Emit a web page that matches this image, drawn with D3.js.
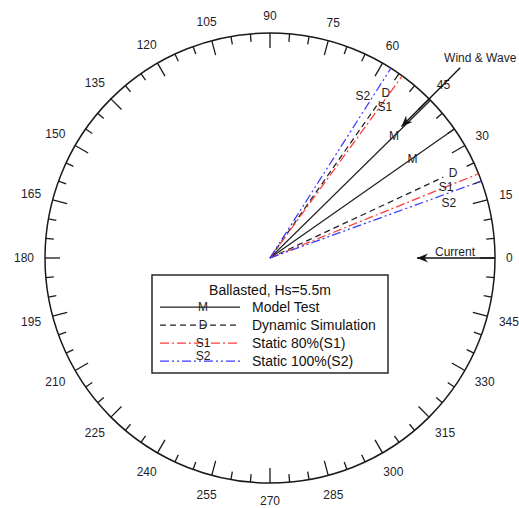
<!DOCTYPE html>
<html>
<head>
<meta charset="utf-8">
<script src="https://cdn.jsdelivr.net/npm/d3@7"></script>
<style>
  html, body { margin: 0; padding: 0; background: #fff; }
  svg { display: block; font-family: "Liberation Sans", Arial, sans-serif; }
</style>
</head>
<body>
<svg id="chart" width="519" height="508"></svg>
<script>
// Heading (deg, counter-clockwise from east) of each result, two cases per method
const seriesKeys  = ["M", "D", "S1", "S2"];
const seriesNames = ["Model Test", "Dynamic Simulation", "Static 80%(S1)", "Static 100%(S2)"];
const headingCase1 = [44.5, 55, 54, 57.5];
const headingCase2 = [35, 25, 22, 20];
const tickLabels = [0, 15, 30, 45, 60, 75, 90, 105, 120, 135, 150, 165,
                    180, 195, 210, 225, 240, 255, 270, 285, 300, 315, 330, 345];
const windDirection = 45;
const currentDirection = 0;
const legendTitle = "Ballasted, Hs=5.5m";

// Styling per method
const style = {
  M:  { color: "#222",    dash: null,              len: 1.0,  labR: 174, off: [0, 0]  },
  D:  { color: "#222",    dash: "6,4",             len: 0.85, labR: 202, off: [0, 0]  },
  S1: { color: "#ff3b3b", dash: "9,3,2,3",         len: 1.0,  labR: 190, off: [-4, 0] },
  S2: { color: "#3b3bff", dash: "9,3,2,3,2,3",     len: 1.0,  labR: 187, off: [9, -9] }
};

const svg = d3.select("#chart");
const cx = 270, cy = 258, R = 225;
const g = svg.append("g").attr("transform", `translate(${cx},${cy})`);

// radial scale (fraction of radius -> px) and heading -> d3 radial angle
const rScale = d3.scaleLinear().domain([0, 1]).range([0, R]);
const aScale = d3.scaleLinear().domain([0, 360]).range([Math.PI / 2, Math.PI / 2 - 2 * Math.PI]);
const pt = (deg, r) => {
  const a = aScale(deg);
  return [r * Math.sin(a), -r * Math.cos(a)];
};

// outer circle
g.append("circle").attr("r", R).attr("fill", "none").attr("stroke", "#1a1a1a").attr("stroke-width", 1.5);

// compass ticks every 5 degrees, longer every 15
const tickDegs = d3.range(0, 360, 5);
g.selectAll("line.tick").data(tickDegs).join("line")
  .attr("class", "tick")
  .attr("x1", d => pt(d, R)[0]).attr("y1", d => pt(d, R)[1])
  .attr("x2", d => pt(d, R - (d % 15 === 0 ? 15 : 8))[0])
  .attr("y2", d => pt(d, R - (d % 15 === 0 ? 15 : 8))[1])
  .attr("stroke", "#1a1a1a").attr("stroke-width", 1.3);

// tick labels placed just outside the circle
const lbl = g.selectAll("text.tl").data(tickLabels).join("text")
  .attr("class", "tl")
  .attr("font-size", 12).attr("fill", "#1e1e2a")
  .attr("text-anchor", "middle").attr("dy", "0.36em")
  .text(d => d);
lbl.each(function (d) {
  const w = this.getComputedTextLength() / 2;
  const a = aScale(d);
  const r = 236 + w * Math.abs(Math.sin(a)) + 6.5 * Math.abs(Math.cos(a));
  const p = pt(d, r);
  d3.select(this).attr("x", p[0]).attr("y", p[1]);
});

// result lines
const radial = d3.lineRadial().angle(d => aScale(d[0])).radius(d => rScale(d[1]));
const rows = [];
seriesKeys.forEach((k, i) => {
  [headingCase1[i], headingCase2[i]].forEach((h, c) => rows.push({ key: k, heading: h, caseIdx: c }));
});
g.selectAll("path.res").data(rows).join("path")
  .attr("class", "res")
  .attr("d", d => radial([[d.heading, 0], [d.heading, style[d.key].len]]))
  .attr("fill", "none")
  .attr("stroke", d => style[d.key].color)
  .attr("stroke-width", 1.25)
  .attr("stroke-dasharray", d => style[d.key].dash);

// labels near the line ends
g.selectAll("text.rl").data(rows).join("text")
  .attr("class", "rl")
  .attr("font-size", 12).attr("fill", "#222")
  .attr("text-anchor", "middle").attr("dy", "0.36em")
  .attr("transform", d => {
    const s = style[d.key];
    const p = pt(d.heading, s.labR);
    const perp = s.off[d.caseIdx];
    const a = aScale(d.heading);
    // perpendicular (counter-clockwise side) unit vector
    const nx = -Math.cos(a), ny = -Math.sin(a);
    return `translate(${p[0] + perp * nx},${p[1] + perp * ny})`;
  })
  .text(d => d.key);

// arrow helper: shaft from r0 to r1 with notched head at r1
function arrow(deg, r0, r1) {
  const a0 = pt(deg, r0), a1 = pt(deg, r1);
  g.append("line").attr("x1", a0[0]).attr("y1", a0[1]).attr("x2", a1[0]).attr("y2", a1[1])
    .attr("stroke", "#111").attr("stroke-width", 1.4);
  const ang = Math.atan2(a1[1] - a0[1], a1[0] - a0[0]) * 180 / Math.PI;
  g.append("path")
    .attr("d", "M0,0 L-11,-4.5 L-7.5,0 L-11,4.5 Z")
    .attr("fill", "#111")
    .attr("transform", `translate(${a1[0]},${a1[1]}) rotate(${ang})`);
}
arrow(windDirection, 269, 186);
arrow(currentDirection, R, 147);

g.append("text").attr("x", pt(windDirection, 269)[0] + 20).attr("y", pt(windDirection, 269)[1] - 6)
  .attr("font-size", 12).attr("fill", "#1e1e2a").attr("text-anchor", "middle")
  .text("Wind & Wave");
g.append("text").attr("x", pt(currentDirection, 185)[0]).attr("y", -2)
  .attr("font-size", 12).attr("fill", "#1e1e2a").attr("text-anchor", "middle")
  .text("Current");

// legend
const lg = svg.append("g").attr("transform", "translate(152,275)");
lg.append("rect").attr("width", 236).attr("height", 98)
  .attr("fill", "#fff").attr("stroke", "#1a1a1a").attr("stroke-width", 1.4);
lg.append("text").attr("x", 118).attr("y", 20).attr("font-size", 14).attr("fill", "#111")
  .attr("text-anchor", "middle").text(legendTitle);
const rowY = d3.scalePoint().domain(seriesKeys).range([32, 86]);
const items = lg.selectAll("g.item").data(seriesKeys).join("g")
  .attr("class", "item").attr("transform", d => `translate(0,${rowY(d)})`);
items.append("line").attr("x1", 8).attr("x2", 88)
  .attr("stroke", d => style[d].color).attr("stroke-width", 1.25)
  .attr("stroke-dasharray", d => style[d].dash);
items.append("text").attr("x", 51).attr("y", d => d === "S2" ? -5 : 0)
  .attr("dy", "0.36em").attr("font-size", 12).attr("fill", "#222")
  .attr("text-anchor", "middle").text(d => d);
items.append("text").attr("x", 100).attr("dy", "0.36em").attr("font-size", 14)
  .attr("fill", "#111").text((d, i) => seriesNames[i]);
</script>
</body>
</html>
